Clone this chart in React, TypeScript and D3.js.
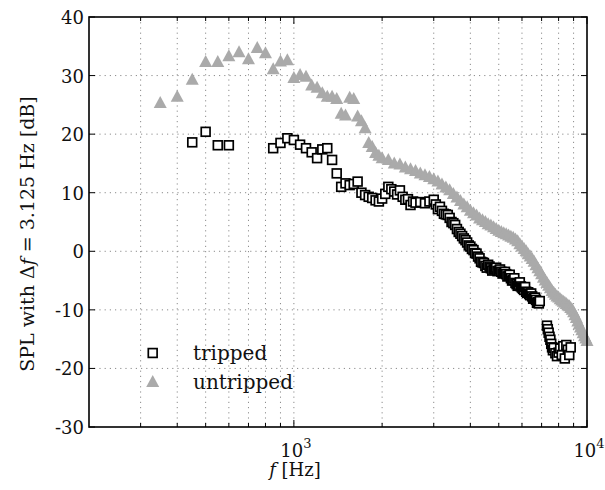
import React from "react";
import * as d3 from "d3";

// Untripped (grey triangles): frequency [Hz] and SPL [dB]
const untrippedF = [
  350, 400, 450, 500, 550, 600, 650, 700, 750, 800, 850, 900, 950, 1000,
  1050, 1100, 1150, 1200, 1250, 1300, 1350, 1400, 1450, 1500, 1550, 1600,
  1650, 1700, 1750, 1800, 1850, 1900, 1950, 2000,
  2100, 2200, 2300, 2400, 2500, 2600, 2700, 2800, 2900, 3000,
  3100, 3200, 3300, 3400, 3500, 3600, 3700, 3800, 3900, 4000,
  4100, 4200, 4300, 4400, 4500, 4600, 4700, 4800, 4900, 5000,
  5100, 5200, 5300, 5400, 5500, 5600, 5700, 5800, 5900, 6000,
  6100, 6200, 6300, 6400, 6500, 6600, 6700, 6800, 6900, 7000,
  7100, 7200, 7300, 7400, 7500, 7600, 7700, 7800, 7900, 8000,
  8100, 8200, 8300, 8400, 8500, 8600, 8700, 8800, 8900, 9000,
  9100, 9200, 9300, 9400, 9500, 9600, 9700, 9800, 9900, 10000,
];
const untrippedSPL = [
  25.3, 26.4, 29.3, 32.3, 32.3, 33.3, 34.0, 32.8, 34.7, 33.8, 31.1, 32.4, 32.6, 29.6,
  30.1, 29.8, 28.3, 27.9, 27.0, 26.4, 26.4, 26.0, 23.5, 23.2, 26.2, 26.0,
  23.0, 22.2, 21.0, 18.5, 17.8, 16.8, 16.3, 15.9,
  15.6, 15.0, 14.8, 14.3, 14.0, 13.7, 13.3, 13.0, 12.7, 12.3,
  11.9, 11.4, 10.9, 10.4, 9.8, 9.2, 8.6, 8.0, 7.5, 6.9,
  6.5, 6.1, 5.6, 5.3, 5.0, 4.6, 4.4, 4.1, 3.8, 3.5,
  3.3, 3.1, 2.9, 2.7, 2.5, 2.3, 2.0, 1.7, 1.2, 0.8,
  0.4, 0.0, -0.5, -0.9, -1.3, -1.8, -2.4, -2.9, -3.4, -3.9,
  -4.5, -5.0, -5.4, -5.9, -6.3, -6.8, -7.1, -7.4, -7.7, -7.9,
  -8.2, -8.4, -8.6, -8.8, -9.0, -9.2, -9.4, -9.7, -10.0, -10.4,
  -10.9, -11.4, -12.0, -12.5, -13.0, -13.5, -14.0, -14.5, -14.9, -15.3,
];

// Tripped (black squares)
const trippedF = [
  450, 500, 550, 600, 850, 900, 950, 1000, 1050, 1100, 1150, 1200, 1250, 1300,
  1350, 1400, 1450, 1500, 1550, 1600, 1650, 1700, 1750, 1800, 1850, 1900, 1950,
  2000, 2050, 2100, 2150, 2200, 2250, 2300, 2350, 2400, 2450, 2500, 2550, 2600,
  2700, 2800, 2900, 3000, 3050, 3100, 3150, 3200, 3250, 3300, 3350, 3400, 3450,
  3500, 3550, 3600, 3650, 3700, 3750, 3800, 3850, 3900, 3950,
  4000, 4050, 4100, 4150, 4200, 4250, 4300, 4350, 4400, 4450, 4500, 4550,
  4600, 4650, 4700, 4750, 4800, 4850, 4900, 4950, 5000, 5050, 5100, 5150, 5200,
  5250, 5300, 5350, 5400, 5450, 5500, 5550, 5600, 5650, 5700, 5750, 5800, 5850,
  5900, 5950, 6000, 6050, 6100, 6150, 6200, 6250, 6300, 6350, 6400, 6450, 6500,
  6550, 6600, 6650, 6700, 6750, 6800, 6850, 6900,
  7300, 7350, 7400, 7450, 7500, 7550, 7600, 7650, 7700,
  7800, 7900, 8000, 8100, 8200, 8300, 8400, 8500, 8600, 8700, 8800,
];
const trippedSPL = [
  18.6, 20.4, 18.1, 18.1, 17.6, 18.5, 19.3, 19.0, 18.2, 17.6, 16.9, 15.9, 17.4, 17.6,
  15.6, 13.3, 11.0, 11.6, 11.3, 11.5, 11.9, 10.0, 9.6, 9.3, 9.1, 8.7, 8.5,
  9.0, 9.8, 11.0, 10.6, 10.2, 9.7, 10.4, 9.3, 8.8, 8.9, 7.9, 8.5, 8.3,
  8.4, 8.2, 8.5, 8.8, 8.0, 7.2, 7.6, 6.9, 6.4, 6.3, 6.2, 5.7, 5.0,
  4.8, 4.5, 3.8, 3.3, 3.0, 2.6, 2.2, 1.9, 1.5, 1.0,
  0.8, 0.4, 0.2, -0.3, -0.4, -0.9, -1.2, -1.8, -1.9, -2.0, -2.5, -2.8,
  -2.3, -2.6, -2.9, -3.3, -3.1, -3.0, -2.8, -3.4, -3.3, -3.1, -3.5, -3.8, -3.7,
  -3.5, -3.9, -4.3, -4.2, -4.0, -4.6, -5.0, -4.9, -4.6, -5.4, -5.6, -5.9, -5.7,
  -5.3, -6.0, -6.2, -6.4, -6.6, -6.1, -6.9, -7.1, -7.0, -7.3, -7.5, -7.2, -7.7,
  -8.1, -8.0, -7.9, -8.3, -8.8, -8.7, -8.9, -8.5,
  -12.7, -13.3, -13.9, -14.6, -15.1, -15.8, -16.4, -16.9, -16.5,
  -17.4, -17.9, -17.3, -16.6, -17.7, -16.2, -18.3, -16.0, -16.8, -17.7, -16.4,
];

const yTicks = [-30, -20, -10, 0, 10, 20, 30, 40];
const xMajor = [1000, 10000];
const xMinor = [300, 400, 500, 600, 700, 800, 900, 2000, 3000, 4000, 5000, 6000, 7000, 8000, 9000];
const xMajorExp = ["3", "4"];
const legendLabels = ["tripped", "untripped"];

const W = 605;
const H = 490;
const L = 89, R = 587, T = 17, B = 427;
const FONT = "DejaVu Serif";
const GREY = "#aaaaaa";

export default function App() {
  const x = d3.scaleLog().domain([200, 10000]).range([L, R]);
  const y = d3.scaleLinear().domain([-30, 40]).range([B, T]);

  const tri = (cx: number, cy: number) =>
    `M${cx},${cy - 7} L${cx + 6.5},${cy + 5} L${cx - 6.5},${cy + 5} Z`;

  const gridV = [...xMinor, ...xMajor.filter((v) => v < 10000)];
  const gridH = yTicks.filter((v) => v > -30 && v < 40);
  const S = 8.8;

  return (
    <svg
      width={W}
      height={H}
      style={{ position: "absolute", left: 0, top: 0, background: "#fff" }}
      fontFamily={FONT}
    >
      <rect x={0} y={0} width={W} height={H} fill="#fff" />
      {/* grid */}
      <g stroke="#8c8c8c" strokeWidth={1} strokeDasharray="1.2,4">
        {gridV.map((v) => (
          <line key={"gv" + v} x1={x(v)} x2={x(v)} y1={T} y2={B} />
        ))}
        {gridH.map((v) => (
          <line key={"gh" + v} x1={L} x2={R} y1={y(v)} y2={y(v)} />
        ))}
      </g>

      {/* data */}
      <g fill={GREY}>
        {untrippedF.map((f, i) => (
          <path key={"u" + i} d={tri(x(f), y(untrippedSPL[i]))} />
        ))}
      </g>
      <g fill="#fff" stroke="#000" strokeWidth={1.7}>
        {trippedF.map((f, i) => (
          <rect key={"t" + i} x={x(f) - S / 2} y={y(trippedSPL[i]) - S / 2} width={S} height={S} />
        ))}
      </g>

      {/* ticks */}
      <g stroke="#000" strokeWidth={1}>
        {xMinor.map((v) => (
          <g key={"xm" + v}>
            <line x1={x(v)} x2={x(v)} y1={B} y2={B - 4} />
            <line x1={x(v)} x2={x(v)} y1={T} y2={T + 4} />
          </g>
        ))}
        {xMajor.map((v) => (
          <g key={"xM" + v}>
            <line x1={x(v)} x2={x(v)} y1={B} y2={B - 7} />
            <line x1={x(v)} x2={x(v)} y1={T} y2={T + 7} />
          </g>
        ))}
        {yTicks.map((v) => (
          <g key={"yt" + v}>
            <line x1={L} x2={L + 6} y1={y(v)} y2={y(v)} />
            <line x1={R} x2={R - 6} y1={y(v)} y2={y(v)} />
          </g>
        ))}
      </g>

      {/* frame */}
      <rect x={L} y={T} width={R - L} height={B - T} fill="none" stroke="#000" strokeWidth={1.6} />

      {/* y tick labels */}
      <g fontSize={18} fill="#111" textAnchor="end">
        {yTicks.map((v) => (
          <text key={"yl" + v} x={L - 5} y={y(v) + 7}>
            {v}
          </text>
        ))}
      </g>

      {/* x tick labels */}
      <g fontSize={18} fill="#111" textAnchor="middle">
        {xMajor.map((v, i) => (
          <text key={"xl" + v} x={x(v) + 2} y={B + 30}>
            <tspan>10</tspan>
            <tspan dy={-9} fontSize={13}>
              {xMajorExp[i]}
            </tspan>
          </text>
        ))}
      </g>

      {/* axis titles */}
      <text x={295} y={476} fontSize={18} textAnchor="middle" fill="#111">
        <tspan fontStyle="italic">f</tspan>
        <tspan> [Hz]</tspan>
      </text>
      <text
        transform={`translate(34,234) rotate(-90)`}
        fontSize={19}
        textAnchor="middle"
        fill="#111"
      >
        <tspan>SPL with Δ</tspan>
        <tspan fontStyle="italic">f</tspan>
        <tspan> = 3.125 Hz [dB]</tspan>
      </text>

      {/* legend */}
      <rect x={152.7 - S / 2} y={353 - S / 2} width={S} height={S} fill="#fff" stroke="#000" strokeWidth={1.7} />
      <path d={tri(152.7, 382)} fill={GREY} />
      <g fontSize={20} fill="#111">
        <text x={193} y={360}>{legendLabels[0]}</text>
        <text x={193} y={389}>{legendLabels[1]}</text>
      </g>
    </svg>
  );
}
